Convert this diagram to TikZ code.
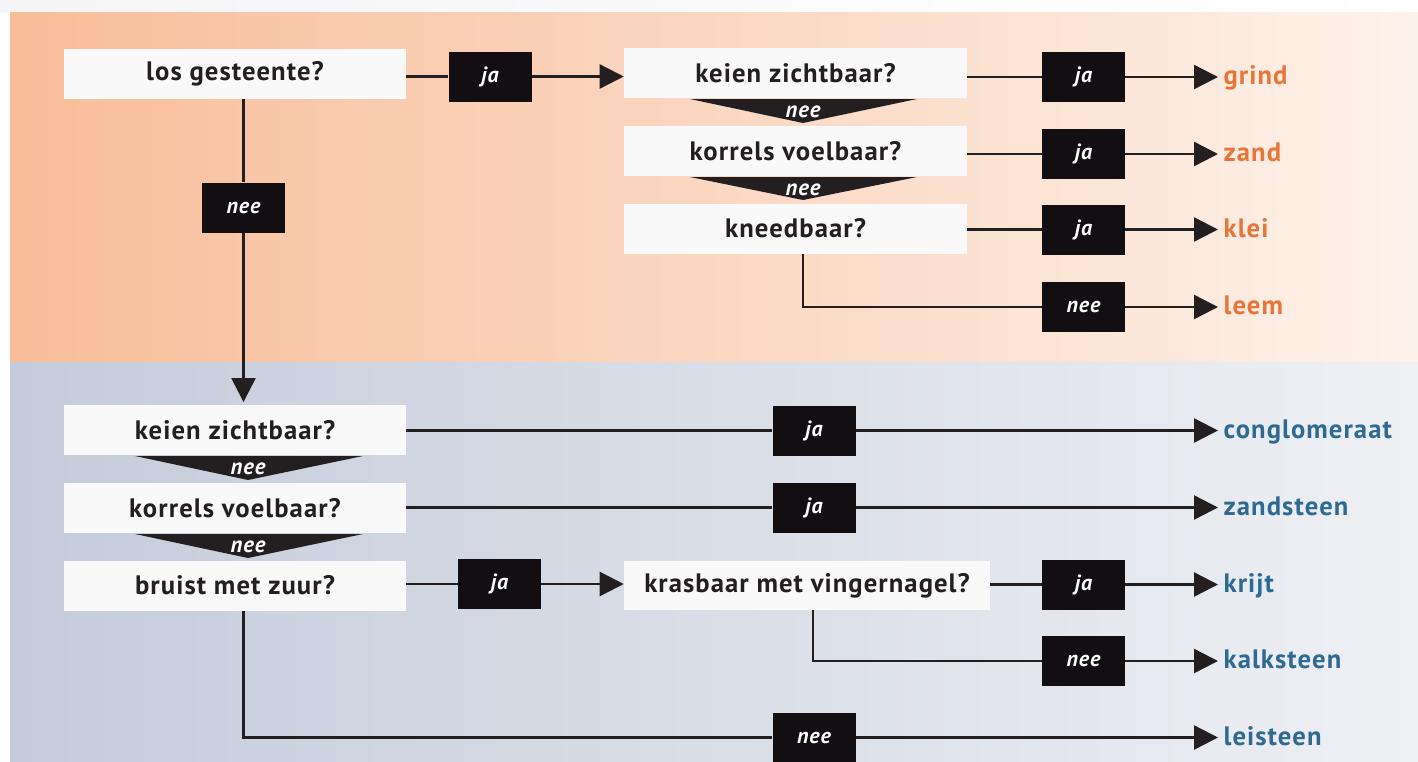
\documentclass[tikz,border=0pt]{standalone}
\usepackage{fontspec}
\setmainfont{PT Sans}[LetterSpace=4]
\usetikzlibrary{arrows.meta}
\definecolor{ink}{HTML}{231F20}
\definecolor{boxblack}{HTML}{120E12}
\definecolor{boxwhite}{HTML}{F9F9F9}
\definecolor{orangetxt}{HTML}{E8753A}
\definecolor{bluetxt}{HTML}{2F6A93}
\definecolor{orL}{HTML}{F8BD99}
\definecolor{orM}{HTML}{F6CCAF}
\definecolor{orR}{HTML}{FDF2EA}
\definecolor{blL}{HTML}{C4CBDA}
\definecolor{blM}{HTML}{D3D8E3}
\definecolor{blR}{HTML}{EEF0F4}
\newcommand{\qfont}{\fontsize{20pt}{22pt}\selectfont\bfseries}
\newcommand{\lfont}{\fontsize{16.5pt}{18pt}\selectfont\bfseries\itshape}
\newcommand{\tfont}{\fontsize{17pt}{19pt}\selectfont\bfseries\itshape}
\tikzset{
  wbox/.style={fill=boxwhite, text=ink, minimum width=256.5pt, minimum height=37.5pt, inner sep=0pt, font=\qfont},
  bbox/.style={fill=boxblack, text=white, minimum width=62.25pt, minimum height=37.5pt, inner sep=0pt, font=\lfont},
  tritxt/.style={text=white, inner sep=0pt, anchor=base, font=\tfont},
  tri/.style={fill=ink},
  reso/.style={anchor=base west, inner xsep=4pt, inner ysep=0pt, font=\qfont, text=orangetxt},
  resb/.style={anchor=base west, inner xsep=4pt, inner ysep=0pt, font=\qfont, text=bluetxt},
  conn/.style={draw=ink, line width=1.8pt},
  arr/.style={conn, -{Triangle[length=18pt,width=18pt]}}
}
\begin{document}
\begin{tikzpicture}[x=0.75pt,y=-0.75pt]
\useasboundingbox (0,0) rectangle (1418,761);
% background
\fill[white] (0,0) rectangle (1418,761);
\shade[left color=gray!8, right color=white] (0,0) rectangle (1418,12);
\shade[left color=orL, middle color=orM, right color=orR] (10,12) rectangle (1418,362);
\shade[left color=blL, middle color=blM, right color=blR] (10,362) rectangle (1418,761);

% ---------- top section ----------
\node[wbox] (q1) at (235,73.5) {los gesteente?};
\node[bbox] (j1) at (490,76.5) {ja};
\node[bbox] (n1) at (243.5,207.5) {nee};
\node[wbox, minimum width=257.25pt] (k1) at (795.5,73) {keien zichtbaar?};
\node[wbox, minimum width=257.25pt] (k2) at (795.5,151) {korrels voelbaar?};
\node[wbox, minimum width=257.25pt] (k3) at (795.5,228.5) {kneedbaar?};
\fill[tri] (690,99) -- (917,99) -- (803,123) -- cycle;
\node[tritxt] (t1) at (803,117) {nee};
\fill[tri] (690,177) -- (917,177) -- (803,200) -- cycle;
\node[tritxt] (t2) at (803,195) {nee};
\node[bbox] (jg) at (1083.5,77) {ja};
\node[bbox] (jz) at (1083.5,154) {ja};
\node[bbox] (jk) at (1083.5,229.5) {ja};
\node[bbox] (nl) at (1083.5,307) {nee};
\node[reso] (grind) at (1218,84.5) {grind};
\node[reso] (zand) at (1218,161.5) {zand};
\node[reso] (klei) at (1218,237) {klei};
\node[reso] (leem) at (1218,314.5) {leem};

\draw[conn] (q1.east |- j1) -- (j1.west);
\draw[arr] (j1.east) -- (k1.west |- j1);
\draw[conn] (q1.south -| n1) -- (n1.north);
\draw[conn] (k1.east |- jg) -- (jg.west);
\draw[arr] (jg.east) -- (jg.east -| grind.west);
\draw[conn] (k2.east |- jz) -- (jz.west);
\draw[arr] (jz.east) -- (jz.east -| zand.west);
\draw[conn] (k3.east |- jk) -- (jk.west);
\draw[arr] (jk.east) -- (jk.east -| klei.west);
\draw[conn] ([xshift=5.5pt]k3.south) |- (nl.west);
\draw[arr] (nl.east) -- (nl.east -| leem.west);

% ---------- bottom section ----------
\node[wbox] (b1) at (235,430) {keien zichtbaar?};
\node[wbox] (b2) at (235,508) {korrels voelbaar?};
\node[wbox] (b3) at (235,585.5) {bruist met zuur?};
\fill[tri] (135,456) -- (363,456) -- (248,480) -- cycle;
\node[tritxt] (t3) at (248,474) {nee};
\fill[tri] (135,534) -- (363,534) -- (248,558) -- cycle;
\node[tritxt] (t4) at (248,552) {nee};
\node[bbox] (jc) at (814,430.5) {ja};
\node[bbox] (js) at (814,507.5) {ja};
\node[bbox] (jb) at (499.5,584) {ja};
\node[wbox, minimum width=274.5pt, minimum height=36.75pt] (kr) at (807,585.5) {krasbaar met vingernagel?};
\node[bbox] (jkr) at (1083.5,584.5) {ja};
\node[bbox] (nk) at (1083.5,661) {nee};
\node[bbox] (nls) at (814,737.5) {nee};
\node[resb] (cong) at (1218,438) {conglomeraat};
\node[resb] (zst) at (1218,515) {zandsteen};
\node[resb] (krijt) at (1218,592) {krijt};
\node[resb] (kalk) at (1218,668.5) {kalksteen};
\node[resb] (leis) at (1218,745) {leisteen};

\draw[arr] (n1.south) -- ([yshift=2pt]b1.north -| n1);
\draw[conn] (b1.east |- jc) -- (jc.west);
\draw[arr] (jc.east) -- (jc.east -| cong.west);
\draw[conn] (b2.east |- js) -- (js.west);
\draw[arr] (js.east) -- (js.east -| zst.west);
\draw[conn] (b3.east |- jb) -- (jb.west);
\draw[arr] (jb.east) -- (kr.west |- jb);
\draw[conn] (kr.east |- jkr) -- (jkr.west);
\draw[arr] (jkr.east) -- (jkr.east -| krijt.west);
\draw[conn] ([xshift=4.5pt]kr.south) |- (nk.west);
\draw[arr] (nk.east) -- (nk.east -| kalk.west);
\draw[conn] (b3.south -| n1) |- (nls.west);
\draw[arr] (nls.east) -- (nls.east -| leis.west);
\end{tikzpicture}
\end{document}
